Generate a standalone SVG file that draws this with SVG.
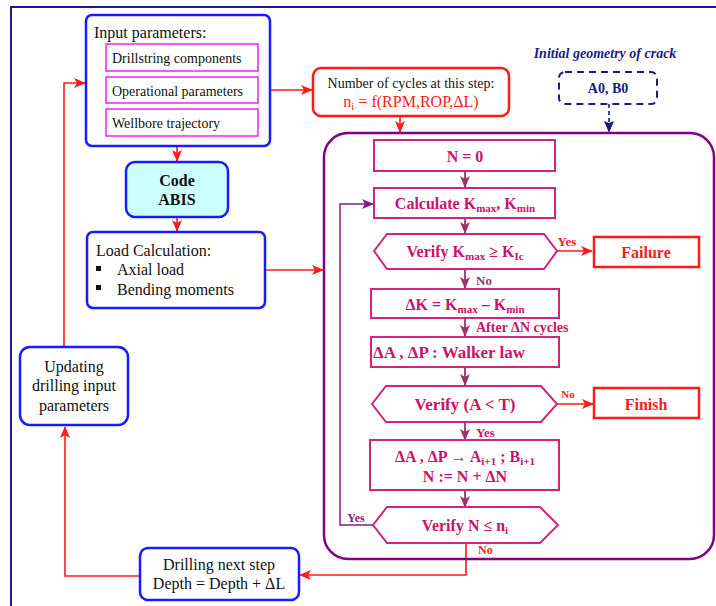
<svg xmlns="http://www.w3.org/2000/svg" width="716" height="606" viewBox="0 0 716 606" font-family="'Liberation Serif','Times New Roman',serif">
<defs>
<marker id="ar" viewBox="0 0 12 10" refX="11" refY="5" markerWidth="12" markerHeight="10" markerUnits="userSpaceOnUse" orient="auto"><path d="M0,0 L12,5 L0,10 L3,5 z" fill="#ff1a1a"/></marker>
<marker id="ap" viewBox="0 0 12 10" refX="11" refY="5" markerWidth="12" markerHeight="10" markerUnits="userSpaceOnUse" orient="auto"><path d="M0,0 L12,5 L0,10 L3,5 z" fill="#993366"/></marker>
<marker id="av" viewBox="0 0 12 10" refX="11" refY="5" markerWidth="12" markerHeight="10" markerUnits="userSpaceOnUse" orient="auto"><path d="M0,0 L12,5 L0,10 L3,5 z" fill="#8a1a8a"/></marker>
<marker id="an" viewBox="0 0 12 10" refX="11" refY="5" markerWidth="12" markerHeight="10" markerUnits="userSpaceOnUse" orient="auto"><path d="M0,0 L12,5 L0,10 L2,5 z" fill="#1a1a8c"/></marker>
</defs>
<style>
.t{font-family:"Liberation Serif","Times New Roman",serif;}
.blue{fill:#fff;stroke:#1a1aff;stroke-width:2.5;}
.sub{fill:#fff;stroke:#ee22ee;stroke-width:1.5;}
.inner{fill:#fff;stroke:#d4237a;stroke-width:2;}
.redbox{fill:#fff;stroke:#ff1a1a;stroke-width:2.5;}
.bk{fill:#111;}
.pk{fill:#cc1166;font-weight:bold;}
.rd{fill:#ff1a1a;}
.lr{fill:none;stroke:#ff1a1a;stroke-width:1.6;}
.lp{fill:none;stroke:#993366;stroke-width:1.8;}
.lv{fill:none;stroke:#8a1a8a;stroke-width:1.5;}
</style>
<rect width="716" height="606" fill="#fff"/>
<path d="M11,612 L11,7 L720,7" fill="none" stroke="#1a1a99" stroke-width="2"/>

<g id="connectors">
<path class="lr" d="M177,146 L177,161" marker-end="url(#ar)"/>
<path class="lr" d="M177,217 L177,231" marker-end="url(#ar)"/>
<path class="lr" d="M265,270 L323,270" marker-end="url(#ar)"/>
<path class="lr" d="M258,90 L312,90" marker-end="url(#ar)"/>
<path class="lr" d="M400,116 L400,132" marker-end="url(#ar)"/>
<path d="M609,104 L609,132" fill="none" stroke="#1a1a8c" stroke-width="1.6" stroke-dasharray="4,3" marker-end="url(#an)"/>
<path class="lr" d="M64,347 L64,83 L85,83" marker-end="url(#ar)"/>
<path class="lr" d="M140,576 L65,576 L65,427" marker-end="url(#ar)"/>
<path class="lr" d="M466,543 L466,575 L300,575" marker-end="url(#ar)"/>
<path class="lp" d="M465,171 L465,187" marker-end="url(#ap)"/>
<path class="lp" d="M465,218 L465,233" marker-end="url(#ap)"/>
<path class="lp" d="M465,269 L465,288" marker-end="url(#ap)"/>
<path class="lp" d="M465,318 L465,336" marker-end="url(#ap)"/>
<path class="lp" d="M465,367 L465,385" marker-end="url(#ap)"/>
<path class="lp" d="M465,422 L465,440" marker-end="url(#ap)"/>
<path class="lp" d="M465,490 L465,507" marker-end="url(#ap)"/>
<path class="lr" d="M557,251 L592,251" marker-end="url(#ar)"/>
<path class="lr" d="M557,404 L593,404" marker-end="url(#ar)"/>
<path class="lv" d="M373,525 L340,525 L340,204 L373,204" marker-end="url(#av)"/>
<text class="t rd" x="567" y="246" font-size="13" font-weight="bold" text-anchor="middle">Yes</text>
<text class="t rd" x="568" y="398" font-size="11" font-weight="bold" text-anchor="middle">No</text>
<text class="t" x="476" y="285" font-size="13" font-weight="bold" fill="#993366">No</text>
<text class="t pk" x="476" y="332" font-size="14">After  ΔN cycles</text>
<text class="t pk" x="476" y="437" font-size="13">Yes</text>
<text class="t" x="356" y="522" font-size="12" font-weight="bold" fill="#8a1a8a" text-anchor="middle">Yes</text>
<text class="t rd" x="478" y="554" font-size="12" font-weight="bold">No</text>
</g>

<g id="input">
<rect class="blue" x="86" y="15" width="184" height="131" rx="6"/>
<text class="t bk" x="94" y="38" font-size="16">Input parameters:</text>
<rect class="sub" x="106" y="44" width="152" height="27"/>
<text class="t bk" x="112" y="63" font-size="14">Drillstring components</text>
<rect class="sub" x="106" y="77" width="152" height="26"/>
<text class="t bk" x="112" y="96" font-size="14">Operational parameters</text>
<rect class="sub" x="106" y="109" width="152" height="27"/>
<text class="t bk" x="112" y="128" font-size="14">Wellbore trajectory</text>
</g>

<g id="abis">
<rect x="126" y="162" width="102" height="55" rx="9" fill="#ccffff" stroke="#1a1aff" stroke-width="2.5"/>
<text class="t bk" x="177" y="186" font-size="16" font-weight="bold" text-anchor="middle">Code</text>
<text class="t bk" x="177" y="205" font-size="16" font-weight="bold" text-anchor="middle">ABIS</text>
</g>

<g id="load">
<rect class="blue" x="87" y="232" width="178" height="76" rx="6"/>
<text class="t bk" x="96" y="256" font-size="16">Load Calculation:</text>
<rect x="96" y="266" width="5" height="5" fill="#111"/>
<text class="t bk" x="117" y="275" font-size="16">Axial load</text>
<rect x="96" y="285" width="5" height="5" fill="#111"/>
<text class="t bk" x="117" y="295" font-size="16">Bending moments</text>
</g>

<g id="updating">
<rect class="blue" x="20" y="347" width="108" height="78" rx="10"/>
<text class="t bk" x="74" y="372" font-size="16" text-anchor="middle">Updating</text>
<text class="t bk" x="74" y="391" font-size="16" text-anchor="middle">drilling input</text>
<text class="t bk" x="74" y="411" font-size="16" text-anchor="middle">parameters</text>
</g>

<g id="drilling">
<rect class="blue" x="140" y="548" width="159" height="52" rx="8"/>
<text class="t bk" x="219" y="570" font-size="16" text-anchor="middle">Drilling next step</text>
<text class="t bk" x="219" y="589" font-size="16" text-anchor="middle">Depth = Depth + ΔL</text>
</g>

<g id="cycles">
<rect class="redbox" x="313" y="68" width="196" height="48" rx="8"/>
<text class="t bk" x="411" y="88" font-size="14" text-anchor="middle">Number of cycles at this step:</text>
<text class="t rd" x="411" y="107" font-size="16" text-anchor="middle">n<tspan font-size="11" dy="3">i</tspan><tspan dy="-3"> = f(RPM,ROP,ΔL)</tspan></text>
</g>

<g id="crack">
<text class="t" x="605" y="58" font-size="14" font-weight="bold" font-style="italic" fill="#1a1a8c" text-anchor="middle">Initial geometry of crack</text>
<rect x="559" y="72" width="98" height="32" rx="6" fill="#fff" stroke="#1a1a8c" stroke-width="2" stroke-dasharray="7,5"/>
<text class="t" x="608" y="93" font-size="14" font-weight="bold" fill="#1a1a8c" text-anchor="middle">A0, B0</text>
</g>

<g id="loop">
<rect x="324" y="133" width="390" height="426" rx="24" fill="none" stroke="#800080" stroke-width="2.5"/>
</g>

<g id="n0">
<rect class="inner" x="374" y="140" width="181" height="31"/>
<text class="t pk" x="465" y="162" font-size="16" text-anchor="middle">N = 0</text>
</g>

<g id="calc">
<rect class="inner" x="374" y="188" width="181" height="30"/>
<text class="t pk" x="465" y="209" font-size="16" text-anchor="middle">Calculate K<tspan font-size="11" dy="3">max</tspan><tspan dy="-3">, K</tspan><tspan font-size="11" dy="3">min</tspan></text>
</g>

<g id="verifyK">
<polygon class="inner" points="374,251 387,234 544,234 557,251 544,269 387,269"/>
<text class="t pk" x="465" y="257" font-size="16" text-anchor="middle">Verify K<tspan font-size="11" dy="3">max</tspan><tspan dy="-3"> ≥ K</tspan><tspan font-size="11" dy="3">Ic</tspan></text>
</g>

<g id="failure">
<rect class="redbox" x="594" y="237" width="105" height="30" stroke-width="2"/>
<text class="t rd" x="646" y="258" font-size="16" font-weight="bold" text-anchor="middle">Failure</text>
</g>

<g id="deltaK">
<rect class="inner" x="371" y="289" width="188" height="29"/>
<text class="t pk" x="465" y="310" font-size="16" text-anchor="middle">ΔK = K<tspan font-size="11" dy="3">max</tspan><tspan dy="-3"> – K</tspan><tspan font-size="11" dy="3">min</tspan></text>
</g>

<g id="walker">
<rect class="inner" x="371" y="337" width="188" height="30"/>
<text class="t pk" x="373" y="358" font-size="17">ΔA , ΔP : Walker law</text>
</g>

<g id="verifyA">
<polygon class="inner" points="372,404 386,386 541,386 557,404 541,422 386,422"/>
<text class="t pk" x="465" y="410" font-size="17" text-anchor="middle">Verify (A &lt; T)</text>
</g>

<g id="finish">
<rect class="redbox" x="594" y="388" width="105" height="30" stroke-width="2"/>
<text class="t rd" x="646" y="410" font-size="16" font-weight="bold" text-anchor="middle">Finish</text>
</g>

<g id="update">
<rect class="inner" x="370" y="440" width="189" height="50"/>
<text class="t pk" x="465" y="462" font-size="16" text-anchor="middle">ΔA , ΔP → A<tspan font-size="11" dy="3">i+1</tspan><tspan dy="-3"> ; B</tspan><tspan font-size="11" dy="3">i+1</tspan></text>
<text class="t pk" x="465" y="482" font-size="16" text-anchor="middle">N := N + ΔN</text>
</g>

<g id="verifyN">
<polygon class="inner" points="373,525 387,507 540,507 558,525 540,543 387,543"/>
<text class="t pk" x="465" y="531" font-size="16" text-anchor="middle">Verify N ≤ n<tspan font-size="11" dy="3">i</tspan></text>
</g>
</svg>
